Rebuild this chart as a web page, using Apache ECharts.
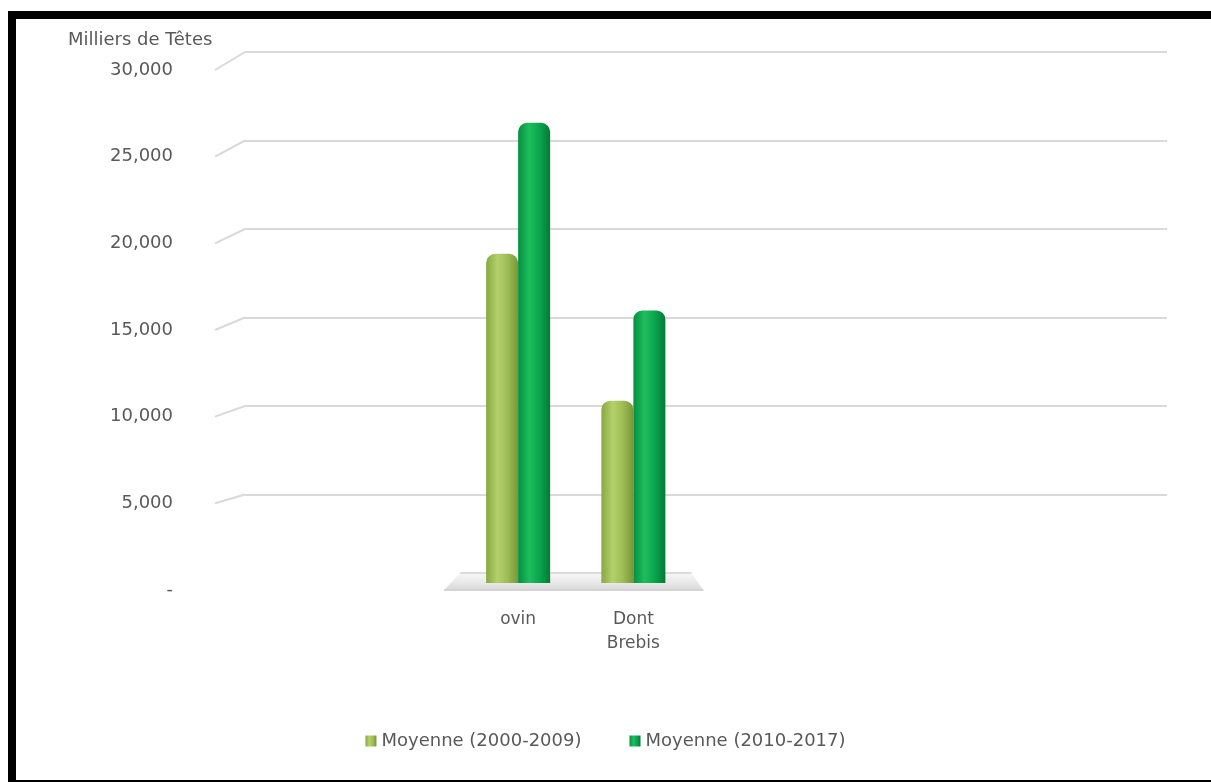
<!DOCTYPE html>
<html><head><meta charset="utf-8">
<script src="https://cdn.jsdelivr.net/npm/echarts@6/dist/echarts.min.js"></script>
<style>
html,body{margin:0;padding:0;background:#fff;}
#chart{position:absolute;left:0;top:0;width:1211px;height:782px;}
#frame{position:absolute;left:8px;top:11px;width:1203px;height:771px;box-sizing:border-box;border-left:8px solid #000;border-top:8px solid #000;border-bottom:2px solid #000;pointer-events:none;}
</style></head><body>
<div id="chart"></div><div id="frame"></div>
<script>
// ---- data ----
const categories = ['ovin', 'Dont\nBrebis'];
const seriesNames = ['Moyenne (2000-2009)', 'Moyenne (2010-2017)'];
const avg2000_2009 = [18600, 10300];
const avg2010_2017 = [26000, 15400];
const yTicks = [0, 5000, 10000, 15000, 20000, 25000, 30000];
const axisTitle = 'Milliers de Têtes';
const leadSlots = 2;   // empty category slots before the data (Excel plot area)
const tailSlots = 4;   // empty category slots after the data

// ---- build ----
const FONT = '"DejaVu Sans", "Noto Sans", sans-serif';
const TXT = '#595959';
const yMin = yTicks[0], yMax = yTicks[yTicks.length - 1], yStep = yTicks[1] - yTicks[0];
const blanks = n => Array.from({length: n}, (_, i) => ' '.repeat(i + 1));
const axisCats = [...blanks(leadSlots), ...categories, ...blanks(leadSlots + tailSlots).slice(leadSlots)];
const pad = arr => [...Array(leadSlots).fill(null), ...arr, ...Array(tailSlots).fill(null)];

const G = echarts.graphic.LinearGradient;
const lightGrad = new G(0, 0, 1, 0, [
  {offset: 0, color: '#87a842'}, {offset: 0.35, color: '#b4d06a'},
  {offset: 0.65, color: '#a0bf56'}, {offset: 1, color: '#789636'}]);
const darkGrad = new G(0, 0, 1, 0, [
  {offset: 0, color: '#03903f'}, {offset: 0.35, color: '#1fbd5e'},
  {offset: 0.65, color: '#0aa74e'}, {offset: 1, color: '#037a35'}]);

const chart = echarts.init(document.getElementById('chart'), null, {renderer: 'canvas'});
const option = {
  backgroundColor: '#fff',
  animation: false,
  title: {text: axisTitle, left: 63, top: 26,
    textStyle: {fontSize: 18, color: TXT, fontWeight: 'normal', fontFamily: FONT}},
  legend: {
    data: seriesNames, left: 'center', bottom: 27, icon: 'rect',
    itemWidth: 11, itemHeight: 11, itemGap: 48,
    textStyle: {fontSize: 18, color: TXT, fontFamily: FONT}
  },
  grid: [
    {left: 230, right: 59, top: 52, bottom: 199},   // bars
    {left: 245, right: 44, top: 52, bottom: 199},   // back wall gridlines
    {left: 245, right: 44, top: 70, bottom: 192}    // front tick labels
  ],
  xAxis: [
    {type: 'category', gridIndex: 0, data: axisCats,
      axisLine: {show: false}, axisTick: {show: false},
      axisLabel: {interval: 0, margin: 25, fontSize: 17, lineHeight: 24, color: TXT, fontFamily: FONT}},
    {type: 'category', gridIndex: 1, data: axisCats, show: false},
    {type: 'category', gridIndex: 2, data: axisCats, show: false}
  ],
  yAxis: [
    {type: 'value', gridIndex: 0, min: yMin, max: yMax, interval: yStep, show: false},
    {type: 'value', gridIndex: 1, min: yMin, max: yMax, interval: yStep,
      axisLine: {show: false}, axisTick: {show: false}, axisLabel: {show: false},
      splitLine: {show: true, showMinLine: false, lineStyle: {color: '#d9d9d9', width: 2}}},
    {type: 'value', gridIndex: 2, min: yMin, max: yMax, interval: yStep,
      axisLine: {show: false}, axisTick: {show: false}, splitLine: {show: false},
      axisLabel: {margin: 72, fontSize: 18, color: TXT, fontFamily: FONT,
        formatter: v => v === 0 ? '-' : v.toLocaleString('en-US')}}
  ],
  series: [
    {type: 'bar', name: seriesNames[0], xAxisIndex: 0, yAxisIndex: 0,
      data: pad(avg2000_2009), barWidth: 32, barGap: '0%', z: 3,
      itemStyle: {color: lightGrad, borderRadius: [9, 9, 0, 0]}},
    {type: 'bar', name: seriesNames[1], xAxisIndex: 0, yAxisIndex: 0,
      data: pad(avg2010_2017), barWidth: 32, barGap: '0%', z: 3,
      itemStyle: {color: darkGrad, borderRadius: [9, 9, 0, 0]}}
  ]
};
chart.setOption(option);

// decorative 3D hints: slanted gridline stubs and bar floor, positioned via the axes
const elements = [];
yTicks.filter(v => v !== 0).forEach(v => {
  const yBack = chart.convertToPixel({yAxisIndex: 1}, v);
  const yFront = chart.convertToPixel({yAxisIndex: 2}, v);
  const xBack = chart.convertToPixel({xAxisIndex: 1}, axisCats[0]) - 922 / 16;
  elements.push({type: 'line', silent: true, z: 1,
    shape: {x1: xBack - 30, y1: yFront, x2: xBack, y2: yBack},
    style: {stroke: '#d9d9d9', lineWidth: 2}});
});
const xFirst = chart.convertToPixel({xAxisIndex: 0}, categories[0]);
const xLast = chart.convertToPixel({xAxisIndex: 0}, categories[categories.length - 1]);
const yFloorFront = chart.convertToPixel({yAxisIndex: 2}, 0);
const yBase = chart.convertToPixel({yAxisIndex: 0}, 0);
elements.push({type: 'polygon', silent: true, z: 1,
  shape: {points: [[xFirst - 58, yBase - 10], [xLast + 58, yBase - 10], [xLast + 70, yFloorFront], [xFirst - 74, yFloorFront]]},
  style: {fill: new G(0, 0, 0, 1, [{offset: 0, color: 'rgba(200,200,200,0.15)'}, {offset: 1, color: 'rgba(170,170,170,0.45)'}])}});
elements.push({type: 'line', silent: true, z: 1,
  shape: {x1: xFirst - 74, y1: yFloorFront, x2: xLast + 70, y2: yFloorFront},
  style: {stroke: '#d4d4d4', lineWidth: 2}});
elements.push({type: 'line', silent: true, z: 1,
  shape: {x1: xFirst - 58, y1: yBase - 10, x2: xLast + 58, y2: yBase - 10},
  style: {stroke: '#dcdcdc', lineWidth: 2}});
chart.setOption({graphic: elements});
</script>
</body></html>
